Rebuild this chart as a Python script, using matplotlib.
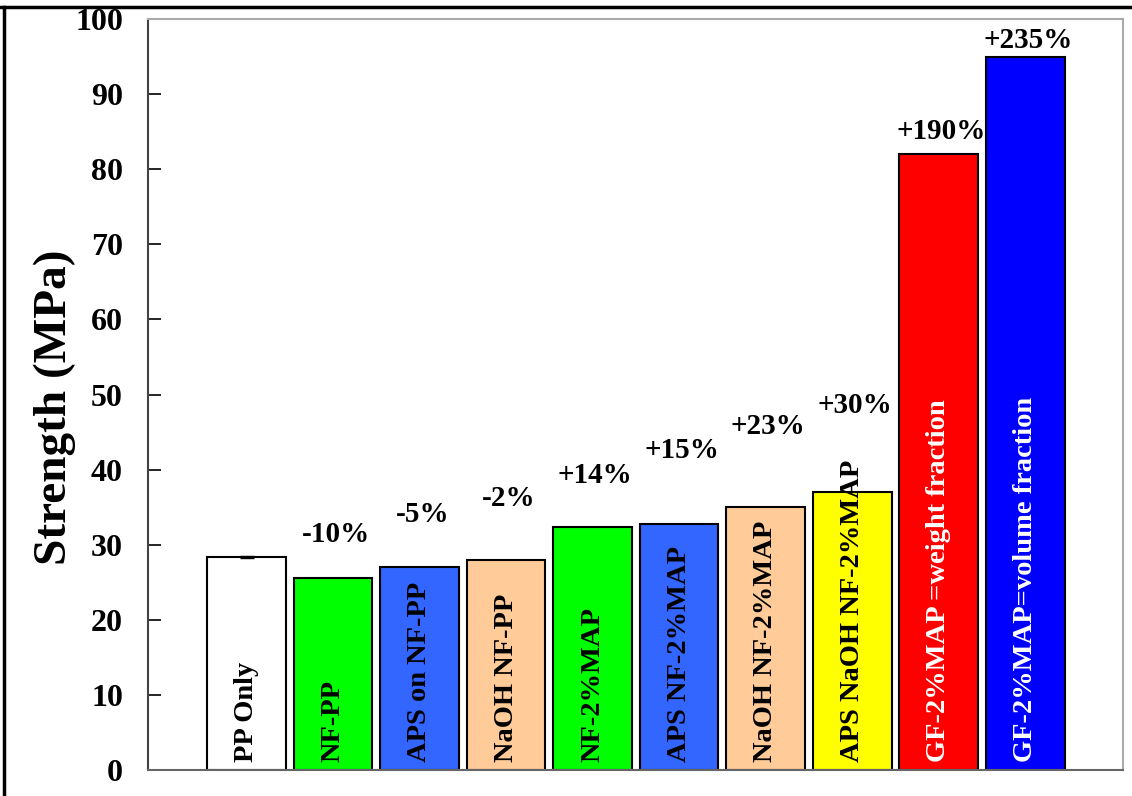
import matplotlib
matplotlib.use('Agg')
import matplotlib.pyplot as plt
from matplotlib.lines import Line2D

# bar data
names = ['PP Only', 'NF-PP', 'APS on NF-PP', 'NaOH NF-PP', 'NF-2%MAP',
         'APS NF-2%MAP', 'NaOH NF-2%MAP', 'APS NaOH NF-2%MAP',
         'GF-2%MAP =weight fraction', 'GF-2%MAP=volume fraction']
strength = [28.4, 25.5, 27.0, 28.0, 32.4, 32.7, 35.0, 37.0, 82.0, 95.0]
pp_err = 0.15
colors = ['#ffffff', '#00ff00', '#3366ff', '#ffcc99', '#00ff00',
          '#3366ff', '#ffcc99', '#ffff00', '#ff0000', '#0000ff']
text_colors = ['black'] * 8 + ['white', 'white']
change = ['', '-10%', '-5%', '-2%', '+14%', '+15%', '+23%', '+30%', '+190%', '+235%']
# height (in MPa) where each percentage label sits
change_y = [0, 31.4, 34.0, 36.2, 39.2, 42.6, 45.7, 48.6, 85.0, 97.2]

plt.rcParams['font.family'] = ['Liberation Serif', 'DejaVu Serif']
plt.rcParams['font.weight'] = 'bold'

fig = plt.figure(figsize=(11.32, 7.96), dpi=100)
axes = fig.add_axes([0.1307, 0.0327, 0.8613, 0.9433])

x = list(range(len(names)))
axes.bar(x, strength, width=0.91, color=colors, edgecolor='black', linewidth=1.5)
axes.errorbar([0], [strength[0]], yerr=[pp_err], fmt='none', ecolor='black',
              capsize=5, elinewidth=1)

for i in x:
    axes.text(i, 1.0, names[i], rotation=90, ha='center', va='bottom',
              fontsize=20.5, fontweight='bold', color=text_colors[i])
    if change[i]:
        axes.text(i + 0.03, change_y[i], change[i], ha='center', va='center',
                  fontsize=21, fontweight='bold')

axes.set_xlim(-1.14, 10.13)
axes.set_ylim(0, 100)
axes.set_yticks(range(0, 101, 10))
axes.set_xticks([])
axes.tick_params(axis='y', direction='in', length=9, width=1.2, labelsize=23, pad=18)
for lab in axes.get_yticklabels():
    lab.set_fontweight('bold')
axes.set_ylabel('Strength (MPa)', fontsize=34, fontweight='bold')
axes.yaxis.set_label_coords(-0.074, 0.483)

axes.spines['left'].set_color('#444444')
axes.spines['bottom'].set_color('#666666')
axes.spines['top'].set_color('#aaaaaa')
axes.spines['right'].set_color('#aaaaaa')
for s in axes.spines.values():
    s.set_linewidth(1.5)

# outer frame lines (top and left) seen in the reference
fig.add_artist(Line2D([0, 1], [0.9912, 0.9912], color='black', linewidth=2.5,
                      transform=fig.transFigure))
fig.add_artist(Line2D([0.0035, 0.0035], [0, 0.9912], color='black', linewidth=2.5,
                      transform=fig.transFigure))

plt.savefig('out.png', dpi=100)
